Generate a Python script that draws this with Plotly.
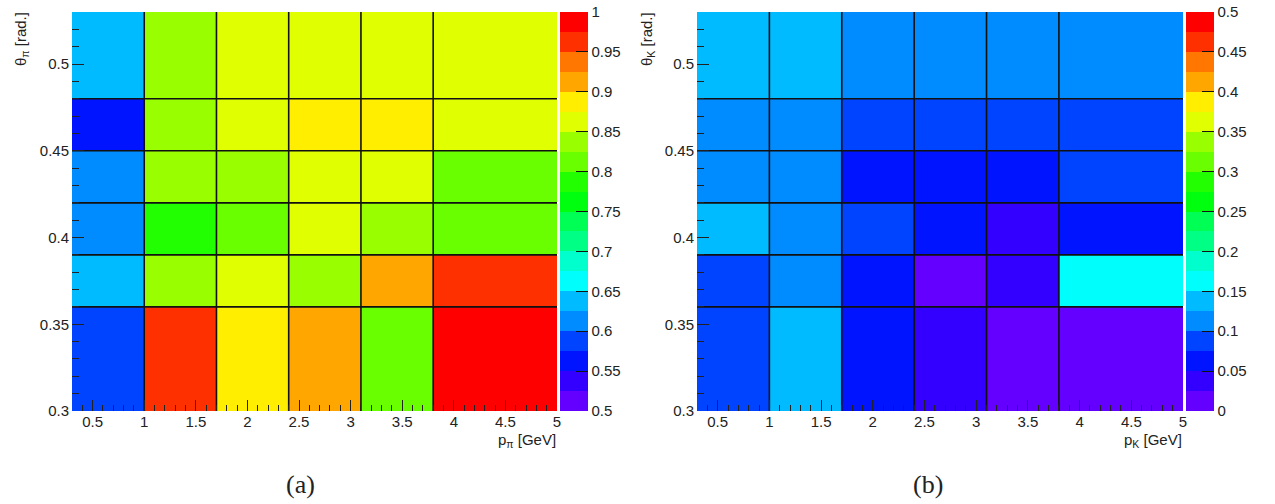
import colorsys
import plotly.graph_objects as go

# ---------------- data ----------------
p_edges = [0.3, 1.0, 1.7, 2.4, 3.1, 3.8, 5.0]
theta_edges = [0.30, 0.36, 0.39, 0.42, 0.45, 0.48, 0.53]

# (a) pion efficiency, rows = theta bins (bottom -> top), cols = p bins
eff_pi = [
    [0.585, 0.960, 0.890, 0.910, 0.810, 0.990],
    [0.640, 0.840, 0.860, 0.835, 0.910, 0.965],
    [0.610, 0.790, 0.815, 0.865, 0.840, 0.815],
    [0.610, 0.840, 0.835, 0.865, 0.860, 0.810],
    [0.565, 0.845, 0.865, 0.885, 0.885, 0.860],
    [0.640, 0.840, 0.860, 0.860, 0.860, 0.865],
]
# (b) kaon values
eff_k = [
    [0.085, 0.135, 0.060, 0.035, 0.015, 0.015],
    [0.090, 0.110, 0.060, 0.015, 0.040, 0.160],
    [0.135, 0.110, 0.085, 0.055, 0.035, 0.060],
    [0.115, 0.110, 0.055, 0.060, 0.060, 0.090],
    [0.110, 0.115, 0.085, 0.080, 0.085, 0.090],
    [0.135, 0.140, 0.110, 0.110, 0.105, 0.110],
]
zrange_a = [0.5, 1.0]
zrange_b = [0.0, 0.5]
cb_ticks_a = [0.5, 0.55, 0.6, 0.65, 0.7, 0.75, 0.8, 0.85, 0.9, 0.95, 1.0]
cb_ticks_b = [0.0, 0.05, 0.1, 0.15, 0.2, 0.25, 0.3, 0.35, 0.4, 0.45, 0.5]

# ---------------- palette (ROOT pretty palette, 20 contours) ----------------
ncolors, ndiv = 50, 20
pal = []
for i in range(ncolors):
    hue = 280 - (i + 1) * (280 / ncolors)
    r, g, b = colorsys.hls_to_rgb(hue / 360.0, 0.5, 1.0)
    pal.append("rgb(%d,%d,%d)" % (round(r * 255), round(g * 255), round(b * 255)))
cols = [pal[int((k + 0.99) * ncolors / ndiv)] for k in range(ndiv)]
cscale = []
for k, c in enumerate(cols):
    cscale.append([k / ndiv, c])
    cscale.append([(k + 1) / ndiv, c])

# the page's body margin is removed by a post script, so the figure sits at (0, 0)
W, H = 1275, 504
def px(x):
    return x / W
def py(y):
    return 1 - y / H

top, bot = 12, 411
dom_a = [px(72), px(557)]
dom_b = [px(697), px(1183)]
ydom = [py(bot), py(top)]

FONT = "Arial, Liberation Sans, Helvetica, sans-serif"

fig = go.Figure()

def add_panel(z, zr, xa, ya, cb_x, cb_ticks):
    fig.add_trace(go.Heatmap(
        x=p_edges, y=theta_edges, z=z, zmin=zr[0], zmax=zr[1],
        colorscale=cscale, xaxis=xa, yaxis=ya, hoverinfo="skip",
        colorbar=dict(x=cb_x, xanchor="left", xpad=0, ypad=0,
                      y=ydom[0], yanchor="bottom", len=ydom[1] - ydom[0],
                      lenmode="fraction", thickness=28, outlinewidth=0,
                      tickmode="array", tickvals=cb_ticks,
                      ticktext=["%g" % v for v in cb_ticks],
                      ticklabeloverflow="allow",
                      ticks="inside", ticklen=12,
                      tickcolor="#111", tickwidth=1.3,
                      tickfont=dict(family=FONT, size=15, color="#222")),
    ))
    # bin border lines
    lx, ly = [], []
    for e in p_edges[1:-1]:
        lx += [e, e, None]
        ly += [theta_edges[0], theta_edges[-1], None]
    for e in theta_edges[1:-1]:
        lx += [p_edges[0], p_edges[-1], None]
        ly += [e, e, None]
    fig.add_trace(go.Scatter(x=lx, y=ly, mode="lines", xaxis=xa, yaxis=ya,
                             line=dict(color="#111", width=1.6), hoverinfo="skip",
                             showlegend=False))

add_panel(eff_pi, zrange_a, "x", "y", px(560), cb_ticks_a)
add_panel(eff_k, zrange_b, "x2", "y2", px(1186), cb_ticks_b)

axfont = dict(family=FONT, size=15, color="#222")
xcommon = dict(range=[p_edges[0], p_edges[-1]], tick0=0, dtick=0.5, ticks="inside",
               ticklen=11, tickcolor="#222", tickwidth=1, showgrid=False, zeroline=False,
               showline=False, tickfont=axfont, automargin=False,
               minor=dict(dtick=0.1, tick0=0, ticks="inside", ticklen=6, tickcolor="#222"))
ycommon = dict(range=[theta_edges[0], theta_edges[-1]], tick0=0, dtick=0.05, ticks="inside",
               ticklen=12, tickcolor="#222", tickwidth=1, showgrid=False, zeroline=False,
               showline=False, tickfont=axfont, ticklabelstandoff=2, automargin=False,
               minor=dict(dtick=0.01, tick0=0, ticks="inside", ticklen=7, tickcolor="#222"))

fig.update_layout(
    width=W, height=H, margin=dict(l=0, r=0, t=0, b=0),
    paper_bgcolor="white", plot_bgcolor="white", showlegend=False,
    xaxis=dict(domain=dom_a, anchor="y", **xcommon),
    yaxis=dict(domain=ydom, anchor="x", **ycommon),
    xaxis2=dict(domain=dom_b, anchor="y2", **xcommon),
    yaxis2=dict(domain=ydom, anchor="x2", **ycommon),
)

lab = dict(family=FONT, size=15, color="#222")
ann = [
    dict(text="θ<sub>π</sub> [rad.]", x=px(21), y=py(10), textangle=-90,
         xanchor="center", yanchor="top"),
    dict(text="θ<sub>K</sub> [rad.]", x=px(647), y=py(10), textangle=-90,
         xanchor="center", yanchor="top"),
    dict(text="p<sub>π</sub> [GeV]", x=px(558), y=py(440), xanchor="right", yanchor="middle"),
    dict(text="p<sub>K</sub> [GeV]", x=px(1184), y=py(440), xanchor="right", yanchor="middle"),
]
for a in ann:
    fig.add_annotation(xref="paper", yref="paper", showarrow=False, font=lab, **a)

cap = dict(family="Liberation Serif, DejaVu Serif, serif", size=26, color="#222")
fig.add_annotation(text="(a)", x=px(300), y=py(484), xref="paper", yref="paper",
                   showarrow=False, font=cap, xanchor="center", yanchor="middle")
fig.add_annotation(text="(b)", x=px(928), y=py(484), xref="paper", yref="paper",
                   showarrow=False, font=cap, xanchor="center", yanchor="middle")

fig.write_html("out.html",
               config={"displayModeBar": False},
               post_script="document.body.style.margin='0px';"
                           "document.body.style.overflow='hidden';")
